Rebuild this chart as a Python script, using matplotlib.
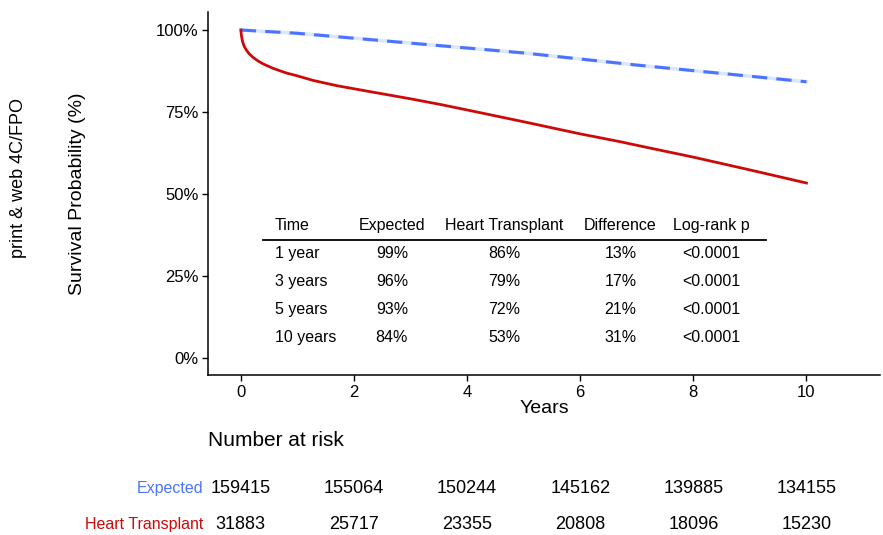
import matplotlib.pyplot as plt
import matplotlib.transforms as mtransforms

plt.rcParams['font.family'] = ['Liberation Sans', 'DejaVu Sans']

# survival curves (years, percent)
ht_t = [0, 0.01, 0.03, 0.06, 0.1, 0.15, 0.22, 0.3, 0.4, 0.57, 0.8, 1.0, 1.28, 1.7,
        2.28, 3.0, 3.52, 4.0, 5.0, 6.0, 6.71, 7.06, 8.0, 9.0, 10.0]
ht_s = [100, 98.3, 96.5, 95.0, 93.8, 92.7, 91.6, 90.6, 89.6, 88.3, 86.9, 86.0, 84.6, 83.0,
        81.2, 79.0, 77.3, 75.6, 72.0, 68.3, 65.9, 64.6, 61.2, 57.3, 53.3]
exp_t = [0, 1, 3, 5, 7, 10]
exp_s = [100, 99, 96, 93, 89.3, 84.2]

# summary table
tbl_header = ['Time', 'Expected', 'Heart Transplant', 'Difference', 'Log-rank p']
tbl_rows = [['1 year', '99%', '86%', '13%', '<0.0001'],
            ['3 years', '96%', '79%', '17%', '<0.0001'],
            ['5 years', '93%', '72%', '21%', '<0.0001'],
            ['10 years', '84%', '53%', '31%', '<0.0001']]

# number at risk
risk_years = [0, 2, 4, 6, 8, 10]
risk_expected = [159415, 155064, 150244, 145162, 139885, 134155]
risk_ht = [31883, 25717, 23355, 20808, 18096, 15230]

blue = '#4a74ff'
red = '#cc0a0a'

fig = plt.figure(figsize=(8.83, 5.35), dpi=100)
ax = fig.add_axes([0.2356, 0.299, 0.761, 0.6786])

ax.plot(exp_t, exp_s, color='#dce6ff', lw=2.6, zorder=2)
ax.plot(exp_t, exp_s, color=blue, lw=2.2, ls=(0, (5, 3)), zorder=3)
ax.plot(ht_t, ht_s, color=red, lw=2.0, zorder=4)

ax.set_xlim(-0.58, 11.3)
ax.set_ylim(-5.3, 105.5)
ax.set_xticks([0, 2, 4, 6, 8, 10])
ax.set_yticks([0, 25, 50, 75, 100])
ax.set_yticklabels(['0%', '25%', '50%', '75%', '100%'])
for s in ['top', 'right']:
    ax.spines[s].set_visible(False)
for s in ['left', 'bottom']:
    ax.spines[s].set_linewidth(1.1)
ax.tick_params(labelsize=12, length=4, width=1, colors='black', pad=3)
ax.set_xlabel('Years', fontsize=14, labelpad=0)
ax.set_ylabel('Survival Probability (%)', fontsize=14, labelpad=50)

# table inside the plot area
col_x = [0.6, 2.67, 4.66, 6.71, 8.31]
col_ha = ['left', 'center', 'center', 'center', 'center']
hdr_y = 40.2
for x, h, ha in zip(col_x, tbl_header, col_ha):
    ax.text(x, hdr_y, h, fontsize=11.5, ha=ha, va='center')
ax.plot([0.4, 9.28], [36.0, 36.0], color='black', lw=1.3)
for i, row in enumerate(tbl_rows):
    y = 31.7 - i * 8.5
    for x, v, ha in zip(col_x, row, col_ha):
        ax.text(x, y, v, fontsize=11.5, ha=ha, va='center')

fig.text(0.021, 0.667, 'print & web 4C/FPO', rotation=90, fontsize=13,
         ha='center', va='center')

# number-at-risk block below the axes
trans = mtransforms.blended_transform_factory(ax.transData, fig.transFigure)
fig.text(0.236, 0.176, 'Number at risk', fontsize=15, ha='left', va='center')
fig.text(0.23, 0.087, 'Expected', fontsize=11.5, color=blue, ha='right', va='center')
fig.text(0.23, 0.02, 'Heart Transplant', fontsize=11.5, color=red, ha='right', va='center')
for x, a, b in zip(risk_years, risk_expected, risk_ht):
    fig.text(x, 0.087, str(a), fontsize=13, ha='center', va='center', transform=trans)
    fig.text(x, 0.02, str(b), fontsize=13, ha='center', va='center', transform=trans)

fig.savefig('out.png', dpi=100, facecolor='white')
